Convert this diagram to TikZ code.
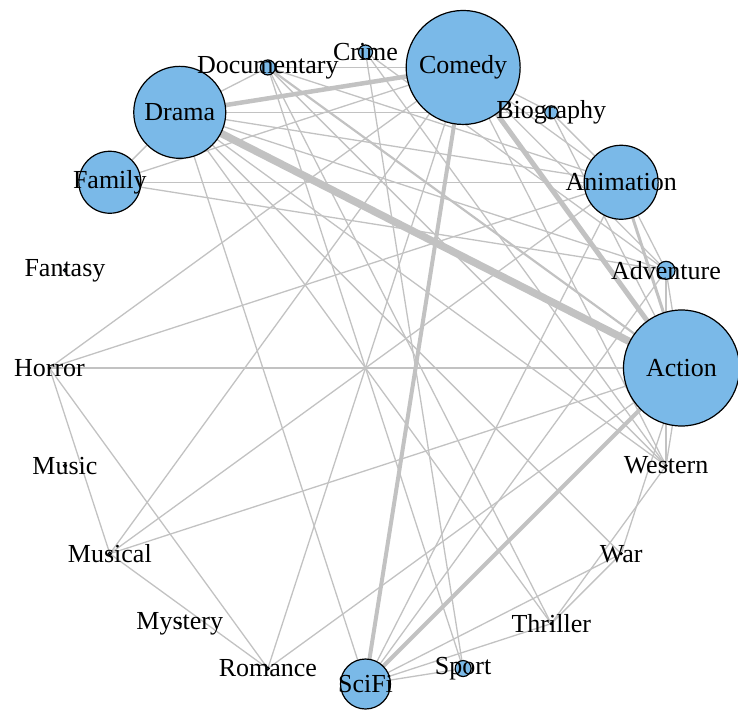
\documentclass[tikz,border=0pt]{standalone}
\usepackage{fontspec}
\setmainfont{Liberation Serif}
\definecolor{vfill}{RGB}{122,185,232}
\definecolor{egray}{RGB}{194,194,194}

\begin{document}
\begin{tikzpicture}[x=1pt,y=1pt,
    vtx/.style={circle,draw=black,fill=vfill,line width=1.2pt,inner sep=0pt},
    lbl/.style={font=\fontsize{26}{26}\selectfont,inner sep=0pt,text=black},
    link/.style={draw=egray,line width=1.3pt}]

    \useasboundingbox (-365.5,-341) rectangle (372.5,368);

    % genres placed round the circle
    \coordinate (act) at (0:316);
    \coordinate (adv) at (18:316);
    \coordinate (ani) at (36:316);
    \coordinate (bio) at (54:316);
    \coordinate (com) at (72:316);
    \coordinate (cri) at (90:316);
    \coordinate (doc) at (108:316);
    \coordinate (dra) at (126:316);
    \coordinate (fam) at (144:316);
    \coordinate (fan) at (162:316);
    \coordinate (hor) at (180:316);
    \coordinate (mus) at (198:316);
    \coordinate (msc) at (216:316);
    \coordinate (mys) at (234:316);
    \coordinate (rom) at (252:316);
    \coordinate (sci) at (270:316);
    \coordinate (spo) at (288:316);
    \coordinate (thr) at (306:316);
    \coordinate (war) at (324:316);
    \coordinate (wes) at (342:316);

    % co-occurrence links
    \draw[link] (hor) -- (act);
    \draw[link] (hor) -- (com);
    \draw[link] (hor) -- (ani);
    \draw[link] (hor) -- (msc);
    \draw[link] (hor) -- (rom);
    \draw[link] (msc) -- (com);
    \draw[link] (msc) -- (ani);
    \draw[link] (msc) -- (act);
    \draw[link] (msc) -- (rom);
    \draw[link] (rom) -- (com);
    \draw[link] (rom) -- (act);
    \draw[link] (dra) -- (sci);
    \draw[link] (dra) -- (thr);
    \draw[link] (dra) -- (war);
    \draw[link] (dra) -- (wes);
    \draw[link] (dra) -- (adv);
    \draw[link] (dra) -- (ani);
    \draw[link] (dra) -- (bio);
    \draw[link] (dra) -- (doc);
    \draw[link] (dra) -- (fam);
    \draw[link] (fam) -- (ani);
    \draw[link] (fam) -- (adv);
    \draw[link] (fam) -- (com);
    \draw[link] (doc) -- (com);
    \draw[link] (doc) -- (ani);
    \draw[link] (doc) -- (spo);
    \draw[link] (doc) -- (wes);
    \draw[link] (doc) -- (thr);
    \draw[link] (cri) -- (spo);
    \draw[link] (cri) -- (adv);
    \draw[link] (cri) -- (wes);
    \draw[link] (com) -- (ani);
    \draw[link] (com) -- (adv);
    \draw[link] (com) -- (bio);
    \draw[link] (com) -- (wes);
    \draw[link] (bio) -- (act);
    \draw[link] (bio) -- (ani);
    \draw[link] (adv) -- (act);
    \draw[link] (adv) -- (ani);
    \draw[link] (adv) -- (wes);
    \draw[link] (adv) -- (sci);
    \draw[link] (ani) -- (sci);
    \draw[link] (act) -- (wes);
    \draw[link] (act) -- (war);
    \draw[link] (war) -- (thr);
    \draw[link] (war) -- (sci);
    \draw[link] (thr) -- (wes);
    \draw[link] (thr) -- (sci);
    \draw[link] (spo) -- (sci);
    \draw[link,line width=2.2pt] (doc) -- (act);
    \draw[link,line width=3pt] (ani) -- (act);
    \draw[link,line width=4pt] (com) -- (sci);
    \draw[link,line width=4pt] (act) -- (sci);
    \draw[link,line width=4.5pt] (dra) -- (com);
    \draw[link,line width=5pt] (com) -- (act);
    \draw[link,line width=7.5pt] (dra) -- (act);

    % vertices, sized by count
    \node[vtx,minimum size=116pt] (nact) at (act) {};
    \node[vtx,minimum size=18pt] (nadv) at (adv) {};
    \node[vtx,minimum size=74pt] (nani) at (ani) {};
    \node[vtx,minimum size=13pt] (nbio) at (bio) {};
    \node[vtx,minimum size=114pt] (ncom) at (com) {};
    \node[vtx,minimum size=14pt] (ncri) at (cri) {};
    \node[vtx,minimum size=15pt] (ndoc) at (doc) {};
    \node[vtx,minimum size=92pt] (ndra) at (dra) {};
    \node[vtx,minimum size=62pt] (nfam) at (fam) {};
    \node[vtx,minimum size=3pt] (nfan) at (fan) {};
    \node[vtx,minimum size=2pt] (nhor) at (hor) {};
    \node[vtx,minimum size=3pt] (nmus) at (mus) {};
    \node[vtx,minimum size=3pt] (nmsc) at (msc) {};
    \node[vtx,minimum size=3pt] (nmys) at (mys) {};
    \node[vtx,minimum size=3pt] (nrom) at (rom) {};
    \node[vtx,minimum size=50pt] (nsci) at (sci) {};
    \node[vtx,minimum size=16pt] (nspo) at (spo) {};
    \node[vtx,minimum size=2pt] (nthr) at (thr) {};
    \node[vtx,minimum size=2pt] (nwar) at (war) {};
    \node[vtx,minimum size=2pt] (nwes) at (wes) {};

    % labels on top
    \node[lbl] at (act) {Action};
    \node[lbl] at (adv) {Adventure};
    \node[lbl] at (ani) {Animation};
    \node[lbl] at (bio) {Biography};
    \node[lbl] at (com) {Comedy};
    \node[lbl] at (cri) {Crime};
    \node[lbl] at (doc) {Documentary};
    \node[lbl] at (dra) {Drama};
    \node[lbl] at (fam) {Family};
    \node[lbl] at (fan) {Fantasy};
    \node[lbl] at (hor) {Horror};
    \node[lbl] at (mus) {Music};
    \node[lbl] at (msc) {Musical};
    \node[lbl] at (mys) {Mystery};
    \node[lbl] at (rom) {Romance};
    \node[lbl] at (sci) {SciFi};
    \node[lbl] at (spo) {Sport};
    \node[lbl] at (thr) {Thriller};
    \node[lbl] at (war) {War};
    \node[lbl] at (wes) {Western};

\end{tikzpicture}
\end{document}
